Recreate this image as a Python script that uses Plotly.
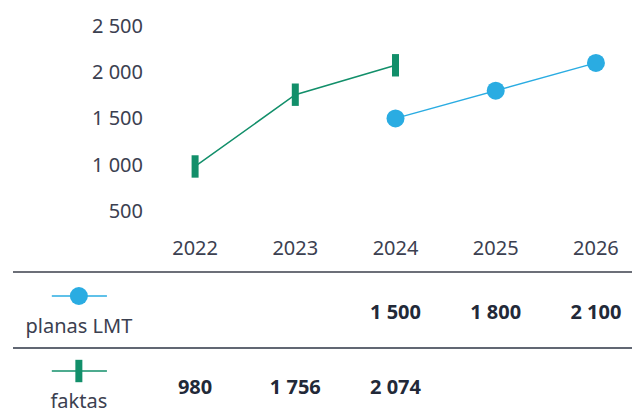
import plotly.graph_objects as go

# data
years = ['2022', '2023', '2024', '2025', '2026']
planas = [None, None, 1500, 1800, 2100]
faktas = [980, 1756, 2074, None, None]
ytick_vals = [500, 1000, 1500, 2000, 2500]

BLUE = '#2aace2'
GREEN = '#128f6a'
TXT = '#3b4050'
BOLD = '#222938'
FONT = 'Noto Sans'


def fmt(v):
    return '' if v is None else f'{v:,}'.replace(',', ' ')


fig = go.Figure()

# main chart
fig.add_trace(go.Scatter(x=years, y=planas, mode='lines+markers',
                         line=dict(color=BLUE, width=1.5),
                         marker=dict(symbol='circle', size=18, color=BLUE, opacity=1),
                         xaxis='x', yaxis='y', hoverinfo='skip'))
fig.add_trace(go.Scatter(x=years, y=faktas, mode='lines+markers',
                         line=dict(color=GREEN, width=1.5),
                         marker=dict(symbol='line-ns', size=16, color=GREEN, opacity=1,
                                     line=dict(color=GREEN, width=7)),
                         xaxis='x', yaxis='y', hoverinfo='skip'))

# table below: rows 0 = planas, 1 = faktas
idx = list(range(len(years)))
rows = [('planas LMT', planas, BLUE, 'circle'), ('faktas', faktas, GREEN, 'line-ns')]
icon_x = [-1.43, -1.16, -0.88]
for r, (name, vals, col, sym) in enumerate(rows):
    fig.add_trace(go.Scatter(x=idx, y=[r] * len(idx), mode='text',
                             text=[fmt(v) for v in vals],
                             textfont=dict(family=FONT, size=20, color=BOLD, weight='bold'),
                             xaxis='x2', yaxis='y2', hoverinfo='skip'))
    # legend icon: short line + marker
    fig.add_trace(go.Scatter(x=[icon_x[0], icon_x[2]], y=[r - 0.24] * 2, mode='lines',
                             line=dict(color=col, width=1.5),
                             xaxis='x2', yaxis='y2', hoverinfo='skip'))
    if sym == 'circle':
        mk = dict(symbol='circle', size=18, color=col, opacity=1)
    else:
        mk = dict(symbol='line-ns', size=16, color=col, opacity=1, line=dict(color=col, width=7))
    fig.add_trace(go.Scatter(x=[icon_x[1]], y=[r - 0.24], mode='markers', marker=mk,
                             xaxis='x2', yaxis='y2', hoverinfo='skip'))
    fig.add_trace(go.Scatter(x=[icon_x[1]], y=[r + 0.19], mode='text', text=[name],
                             textfont=dict(family=FONT, size=20, color=TXT),
                             xaxis='x2', yaxis='y2', hoverinfo='skip'))

# table rules
fig.add_shape(type='line', xref='paper', yref='paper', x0=13 / 632, x1=1,
              y0=1 - 272 / 414, y1=1 - 272 / 414, line=dict(color='#6c6f78', width=2))
fig.add_shape(type='line', xref='paper', yref='paper', x0=13 / 632, x1=1,
              y0=1 - 348 / 414, y1=1 - 348 / 414, line=dict(color='#2d3445', width=1.5))

fig.update_layout(
    width=632, height=414,
    margin=dict(l=0, r=0, t=0, b=0),
    paper_bgcolor='white', plot_bgcolor='white',
    showlegend=False,
    separators=', ',
    font=dict(family=FONT, size=20, color=TXT),
    xaxis=dict(domain=[150 / 632, 1], type='category', range=[-0.45, 4.36],
               showgrid=False, zeroline=False, showline=False, ticks='',
               tickfont=dict(size=20, color=TXT), anchor='y'),
    yaxis=dict(domain=[1 - 234 / 414, 1 - 12 / 414], range=[250, 2650],
               tickvals=ytick_vals, tickformat=',d',
               showgrid=False, zeroline=False, showline=False, ticks='',
               ticklabelstandoff=6,
               tickfont=dict(size=20, color=TXT), anchor='x'),
    xaxis2=dict(domain=[0, 1], range=[-1.947, 4.36], visible=False, anchor='y2'),
    yaxis2=dict(domain=[0, 1 - 262 / 414], range=[1.333, -0.693], visible=False, anchor='x2'),
)

fig.write_html('out.html', config={'displayModeBar': False, 'staticPlot': True},
               post_script="document.body.style.margin='0';document.body.style.overflow='hidden';")
